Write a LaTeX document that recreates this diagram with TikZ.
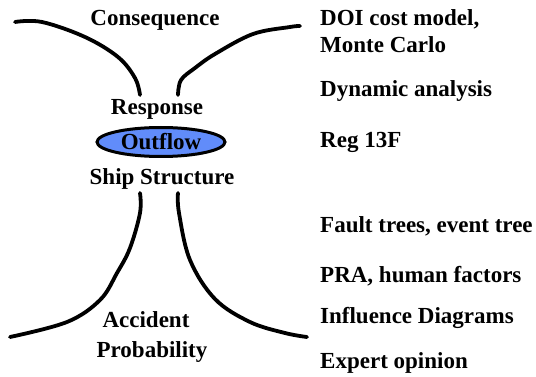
\documentclass[tikz,border=0pt]{standalone}
\usepackage{fontspec}
\setmainfont{Liberation Serif}[BoldFont={Liberation Serif Bold}]
\newfontfamily\timesbold{Liberation Serif Bold}
\usetikzlibrary{shapes.geometric}
\definecolor{outflowblue}{RGB}{97,140,250}
\begin{document}
\begin{tikzpicture}[x=1pt,y=-1pt,
  lbl/.style={font=\timesbold\fontsize{23}{27}\selectfont, inner sep=0pt},
  curve/.style={line width=3.8pt, line cap=round, line join=round}]
\useasboundingbox (0,0) rectangle (536,377);
% curves
\draw[curve] plot[smooth, tension=0.6] coordinates {(15,22) (42,22) (85,37) (118,57) (135,78) (140,95)};
\draw[curve] plot[smooth, tension=0.6] coordinates {(178,95) (181,80) (195,68) (215,54) (253,34) (290,27) (300,26)};
\draw[curve] plot[smooth, tension=0.6] coordinates {(140,193) (140,213) (130,248) (117,273) (100,300) (67,322) (10,337)};
\draw[curve] plot[smooth, tension=0.6] coordinates {(178,193) (179,213) (190,260) (215,299) (250,322) (285,333) (307,337)};
% ellipse
\node[ellipse, draw, line width=3pt, fill=outflowblue, minimum width=128pt, minimum height=29pt, inner sep=0pt] (outflow) at (161,142) {};
\node[lbl, anchor=base] (outflowtxt) at (161,150) {Outflow};
% left labels
\node[lbl, anchor=base] (consequence) at (155,26) {Consequence};
\node[lbl, anchor=base] (response) at (157,115) {Response};
\node[lbl, anchor=base] (ship) at (162,185) {Ship Structure};
\node[lbl, anchor=base] (accident) at (146,327) {Accident};
\node[lbl, anchor=base] (prob) at (152,357) {Probability};
% right labels
\node[lbl, anchor=base west] (doi) at (320,26) {DOI cost model,};
\node[lbl, anchor=base west] (monte) at (320,53) {Monte Carlo};
\node[lbl, anchor=base west] (dyn) at (320,97) {Dynamic analysis};
\node[lbl, anchor=base west] (reg) at (320,148) {Reg 13F};
\node[lbl, anchor=base west] (fault) at (320,233) {Fault trees, event tree};
\node[lbl, anchor=base west] (pra) at (320,282) {PRA, human factors};
\node[lbl, anchor=base west] (infl) at (320,323) {Influence Diagrams};
\node[lbl, anchor=base west] (expert) at (320,368) {Expert opinion};
\end{tikzpicture}
\end{document}
